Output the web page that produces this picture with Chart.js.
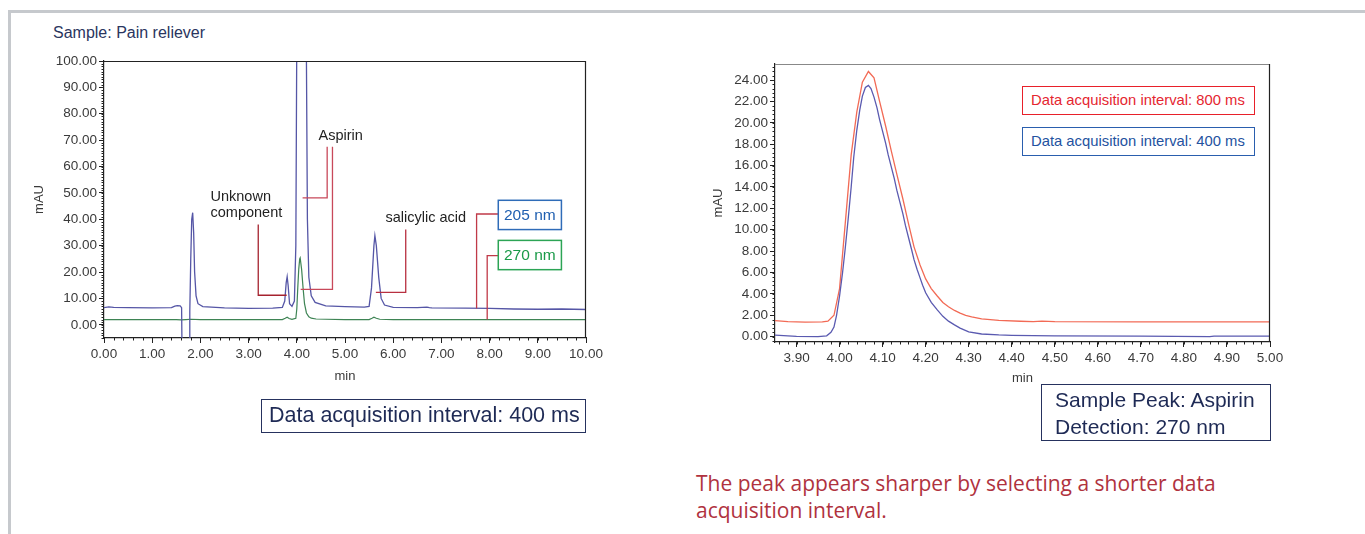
<!DOCTYPE html>
<html>
<head>
<meta charset="utf-8">
<script src="https://cdn.jsdelivr.net/npm/chart.js@4"></script>
<style>
  html, body { margin:0; padding:0; background:#fff; width:1365px; height:534px; overflow:hidden; position:relative; font-family:"Liberation Sans", Arial, sans-serif; }
  .abs { position:absolute; }
  #frame { left:8px; top:10px; width:1400px; height:540px; border-top:3px solid #c6c9cd; border-left:3px solid #c6c9cd; }
  #sample { left:53px; top:24px; font-size:16px; color:#2a3560; white-space:nowrap; }
  .box { border:1.5px solid #26325e; color:#1e2a55; white-space:nowrap; box-sizing:border-box; }
  #acq { left:261px; top:399px; width:325px; height:34px; font-size:21.5px; line-height:31px; padding-left:7px; }
  #peak { left:1041px; top:384px; width:230px; height:57px; font-size:21px; line-height:27px; padding:1px 0 0 13px; }
  .leg { font-size:14.8px; height:29px; line-height:26px; padding-left:8px; width:233px; box-sizing:border-box; white-space:nowrap; background:#fff; }
  #leg800 { left:1022px; top:86px; border:1.5px solid #e8202a; color:#e52630; }
  #leg400 { left:1022px; top:127px; border:1.5px solid #2a5eae; color:#2452a0; }
  #note { left:696px; top:470px; font-family:"Open Sans", "Noto Sans", sans-serif; font-size:21px; line-height:27px; color:#b0323e; white-space:nowrap; }
  canvas { position:absolute; }
</style>
</head>
<body>
<div id="frame" class="abs"></div>
<div id="sample" class="abs">Sample: Pain reliever</div>
<canvas id="left" width="640" height="400" style="left:0px;top:0px;"></canvas>
<canvas id="right" width="620" height="400" style="left:680px;top:0px;"></canvas>
<div id="acq" class="abs box">Data acquisition interval: 400 ms</div>
<div id="peak" class="abs box">Sample Peak: Aspirin<br>Detection: 270 nm</div>
<div id="leg800" class="abs leg">Data acquisition interval: 800 ms</div>
<div id="leg400" class="abs leg">Data acquisition interval: 400 ms</div>
<div id="note" class="abs">The peak appears sharper by selecting a shorter data<br>acquisition interval.</div>
<script>
// ---------------- DATA ----------------
// Left chromatogram (min vs mAU)
const t205 = [0,0.1,0.2,0.5,1.0,1.4,1.47,1.52,1.58,1.61,1.62,1.77,1.78,1.80,1.82,1.84,1.86,1.88,1.91,1.95,2.05,2.5,3.0,3.5,3.7,3.75,3.78,3.80,3.82,3.85,3.90,3.95,3.98,4.00,4.10,4.20,4.22,4.25,4.30,4.38,4.60,5.00,5.40,5.50,5.55,5.60,5.62,5.65,5.70,5.75,5.82,6.00,6.50,6.70,6.75,6.80,7.50,8.00,8.50,9.00,9.50,10.00];
const v205 = [6.5,6.8,6.6,6.5,6.4,6.5,7.1,7.3,7.2,6.5,-12,-12,5,25,40,42.5,35,20,11,8,6.9,6.4,6.2,6.3,6.6,9,16,18.2,15,8,7,9,30,110,250,100,40,18,11,8.5,7.2,6.9,6.7,7,14,30,33.8,30,18,10,7.5,6.6,6.5,6.7,6.5,6.4,6.3,6.2,6.0,5.9,6.0,5.8];
const t270 = [0,0.5,1.0,1.5,1.6,1.7,1.8,2.0,3.0,3.7,3.76,3.80,3.84,3.90,3.98,4.00,4.02,4.04,4.06,4.07,4.10,4.13,4.16,4.20,4.25,4.30,4.40,4.60,5.00,5.50,5.56,5.60,5.65,5.72,6.0,7.0,8.0,9.0,10.0];
const v270 = [2.0,2.0,2.0,2.0,1.9,2.0,2.1,2.0,2.0,2.0,2.5,2.9,2.4,2.1,2.5,6,14,21,25,25.4,21,14,8,4.5,3.0,2.5,2.2,2.1,2.0,2.0,2.5,2.9,2.5,2.1,2.0,2.0,2.0,2.0,2.0];
const leftXTicks = [0,1,2,3,4,5,6,7,8,9,10];
const leftYTicks = [0,10,20,30,40,50,60,70,80,90,100];

// Right: aspirin peak at two acquisition intervals
const t800 = [3.85,3.88,3.92,3.96,3.973,3.987,4.000,4.013,4.027,4.040,4.053,4.067,4.080,4.093,4.107,4.120,4.133,4.147,4.160,4.173,4.187,4.200,4.213,4.227,4.240,4.253,4.267,4.280,4.293,4.307,4.33,4.37,4.42,4.45,4.47,4.50,4.70,5.00];
const v800 = [1.5,1.4,1.35,1.38,1.45,2.0,4.5,10.5,17,21,23.8,24.8,24.2,22.0,19.7,17.4,15.2,12.9,10.6,8.4,6.7,5.4,4.5,3.8,3.2,2.8,2.45,2.2,2.0,1.85,1.66,1.52,1.44,1.41,1.45,1.4,1.38,1.38];
const t400 = [3.85,3.87,3.90,3.95,3.97,3.98,3.987,3.993,4.000,4.007,4.013,4.020,4.027,4.033,4.040,4.047,4.053,4.060,4.067,4.073,4.080,4.087,4.093,4.100,4.107,4.113,4.120,4.127,4.133,4.140,4.147,4.153,4.160,4.167,4.173,4.180,4.187,4.193,4.200,4.213,4.227,4.240,4.253,4.267,4.280,4.300,4.330,4.370,4.400,4.500,4.700,4.860,4.870,5.000];
const v400 = [0.15,0.1,0.03,0.0,0.08,0.4,0.9,2.0,3.8,6.0,8.2,11.0,14.0,16.8,19.3,21.2,22.5,23.3,23.5,23.2,22.4,21.4,20.3,19.2,18.1,17.0,15.9,14.8,13.7,12.6,11.5,10.4,9.3,8.2,7.2,6.3,5.5,4.8,4.1,3.2,2.5,1.9,1.45,1.1,0.8,0.45,0.25,0.16,0.12,0.07,0.05,0.0,0.05,0.05];
const rightXTicks = [3.9,4.0,4.1,4.2,4.3,4.4,4.5,4.6,4.7,4.8,4.9,5.0];
const rightYTicks = [0,2,4,6,8,10,12,14,16,18,20,22,24];

// Peak labels on the left chromatogram (in data units)
const leftLabels = [
  { text: ['Unknown', 'component'], x: 2.21, y: 48.6, color: '#222' },
  { text: ['Aspirin'], x: 4.45, y: 71.7, color: '#222' },
  { text: ['salicylic acid'], x: 5.84, y: 40.3, color: '#222' }
];
const leftLeaders = [
  { pts: [[3.20, 38.0], [3.20, 11.2], [3.79, 11.2]], color: '#a5222e' },
  { pts: [[4.63, 67.5], [4.63, 48.1], [4.12, 48.1]], color: '#c8485a' },
  { pts: [[4.74, 67.5], [4.74, 13.4], [4.08, 13.4]], color: '#c8485a' },
  { pts: [[6.26, 36.1], [6.26, 12.3], [5.64, 12.3]], color: '#b83040' },
  { pts: [[8.18, 42.0], [7.73, 42.0], [7.73, 6.2]], color: '#c03a48' },
  { pts: [[8.18, 26.2], [7.95, 26.2], [7.95, 2.0]], color: '#c03a48' }
];
const leftBoxes = [
  { text: '205 nm', x0: 8.18, x1: 9.49, y0: 47.2, y1: 36.1, color: '#2f6cb8', textColor: '#1f5fb0' },
  { text: '270 nm', x0: 8.18, x1: 9.49, y0: 32.0, y1: 20.9, color: '#2ca455', textColor: '#1a9a48' }
];

// --------------- HELPERS ---------------
const pairs = (t, v) => t.map((x, i) => ({ x, y: v[i] }));
const FONT = '"Liberation Sans", Arial, sans-serif';

const minorTicks = {
  id: 'minorTicks',
  afterDraw(chart, args, o) {
    const { ctx, chartArea: a, scales: { x, y } } = chart;
    ctx.save();
    ctx.strokeStyle = '#222';
    ctx.lineWidth = 1;
    ctx.beginPath();
    for (let i = Math.ceil(x.min / o.xStep - 1e-6); i <= Math.floor(x.max / o.xStep + 1e-6); i++) {
      const px = Math.round(x.getPixelForValue(i * o.xStep)) + 0.5;
      ctx.moveTo(px, a.bottom); ctx.lineTo(px, a.bottom + o.len);
    }
    for (let i = Math.ceil(y.min / o.yStep - 1e-6); i <= Math.floor(y.max / o.yStep + 1e-6); i++) {
      const py = Math.round(y.getPixelForValue(i * o.yStep)) + 0.5;
      ctx.moveTo(a.left, py); ctx.lineTo(a.left - o.len, py);
    }
    ctx.stroke();
    ctx.lineWidth = 1.2;
    ctx.strokeStyle = o.topColor;
    ctx.beginPath(); ctx.moveTo(a.left, a.top + 0.5); ctx.lineTo(a.right, a.top + 0.5); ctx.stroke();
    ctx.strokeStyle = o.rightColor;
    ctx.beginPath(); ctx.moveTo(a.right - 0.5, a.top); ctx.lineTo(a.right - 0.5, a.bottom); ctx.stroke();
    ctx.restore();
  }
};

const peakLabels = {
  id: 'peakLabels',
  afterDatasetsDraw(chart, args, o) {
    if (!o.enabled) return;
    const { ctx, scales: { x, y } } = chart;
    ctx.save();
    ctx.lineWidth = 1.3;
    leftLeaders.forEach(l => {
      ctx.strokeStyle = l.color;
      ctx.beginPath();
      l.pts.forEach((p, i) => {
        const px = x.getPixelForValue(p[0]), py = y.getPixelForValue(p[1]);
        if (i === 0) ctx.moveTo(px, py); else ctx.lineTo(px, py);
      });
      ctx.stroke();
    });
    ctx.font = '14.5px ' + FONT;
    ctx.textBaseline = 'middle';
    ctx.textAlign = 'left';
    leftLabels.forEach(l => {
      ctx.fillStyle = l.color;
      l.text.forEach((t, i) => ctx.fillText(t, x.getPixelForValue(l.x), y.getPixelForValue(l.y) + i * 16));
    });
    ctx.font = '15.5px ' + FONT;
    leftBoxes.forEach(b => {
      const x0 = x.getPixelForValue(b.x0), x1 = x.getPixelForValue(b.x1);
      const y0 = y.getPixelForValue(b.y0), y1 = y.getPixelForValue(b.y1);
      ctx.fillStyle = '#fff';
      ctx.fillRect(x0, y0, x1 - x0, y1 - y0);
      ctx.strokeStyle = b.color; ctx.lineWidth = 1.5;
      ctx.strokeRect(x0, y0, x1 - x0, y1 - y0);
      ctx.fillStyle = b.textColor;
      ctx.textAlign = 'center';
      ctx.fillText(b.text, (x0 + x1) / 2, (y0 + y1) / 2 + 1);
    });
    ctx.restore();
  }
};

function makeChart(id, cfg) {
  return new Chart(document.getElementById(id), {
    type: 'line',
    data: { datasets: cfg.datasets },
    plugins: [minorTicks, peakLabels],
    options: {
      responsive: false,
      animation: false,
      devicePixelRatio: 1,
      layout: { padding: cfg.padding },
      elements: { point: { radius: 0 }, line: { tension: 0 } },
      plugins: {
        legend: { display: false },
        tooltip: { enabled: false },
        minorTicks: cfg.minor,
        peakLabels: { enabled: cfg.labels }
      },
      scales: {
        x: {
          type: 'linear', min: cfg.xMin, max: cfg.xMax,
          afterBuildTicks: s => { s.ticks = cfg.xTicks.map(v => ({ value: v })); },
          afterFit: s => { s.height = cfg.xHeight; },
          ticks: { callback: v => Number(v).toFixed(2), font: { family: FONT, size: 13.5 }, color: '#3a3a3a', padding: 3, maxRotation: 0, autoSkip: false },
          grid: { display: true, drawOnChartArea: false, drawTicks: true, tickLength: 5, tickColor: '#222' },
          border: { display: true, color: '#222', width: 1.2 },
          title: { display: true, text: 'min', font: { family: FONT, size: 13 }, color: '#3a3a3a', padding: { top: 0, bottom: cfg.xTitlePad } }
        },
        y: {
          type: 'linear', min: cfg.yMin, max: cfg.yMax,
          afterBuildTicks: s => { s.ticks = cfg.yTicks.map(v => ({ value: v })); },
          afterFit: s => { s.width = cfg.yWidth; },
          ticks: { callback: v => Number(v).toFixed(2), font: { family: FONT, size: 13.5 }, color: '#3a3a3a', padding: 2, autoSkip: false },
          grid: { display: true, drawOnChartArea: false, drawTicks: true, tickLength: 5, tickColor: '#222' },
          border: { display: true, color: '#222', width: 1.2 },
          title: { display: true, text: 'mAU', font: { family: FONT, size: 13 }, color: '#3a3a3a', padding: { top: cfg.yTitlePad, bottom: 0 } }
        }
      }
    }
  });
}

makeChart('left', {
  datasets: [
    { label: '205 nm', data: pairs(t205, v205), borderColor: '#5556a6', borderWidth: 1.3 },
    { label: '270 nm', data: pairs(t270, v270), borderColor: '#3e8454', borderWidth: 1.2 }
  ],
  padding: { top: 61, right: 54, left: 0, bottom: 0 },
  xMin: 0, xMax: 10, yMin: -5, yMax: 100,
  xTicks: leftXTicks, yTicks: leftYTicks,
  xHeight: 62, yWidth: 104, xTitlePad: 16, yTitlePad: 32,
  minor: { xStep: 0.2, yStep: 1, len: 2.5, topColor: '#222', rightColor: '#222' },
  labels: true
});

makeChart('right', {
  datasets: [
    { label: 'Data acquisition interval: 400 ms', data: pairs(t400, v400), borderColor: '#5a5ab0', borderWidth: 1.3 },
    { label: 'Data acquisition interval: 800 ms', data: pairs(t800, v800), borderColor: '#f26a55', borderWidth: 1.3 }
  ],
  padding: { top: 64, right: 30, left: 0, bottom: 0 },
  xMin: 3.85, xMax: 5.0, yMin: -0.5, yMax: 25.5,
  xTicks: rightXTicks, yTicks: rightYTicks,
  xHeight: 58, yWidth: 95, xTitlePad: 14, yTitlePad: 31,
  minor: { xStep: 0.02, yStep: 0.4, len: 2.5, topColor: '#888', rightColor: '#222' },
  labels: false
});
</script>
</body>
</html>
